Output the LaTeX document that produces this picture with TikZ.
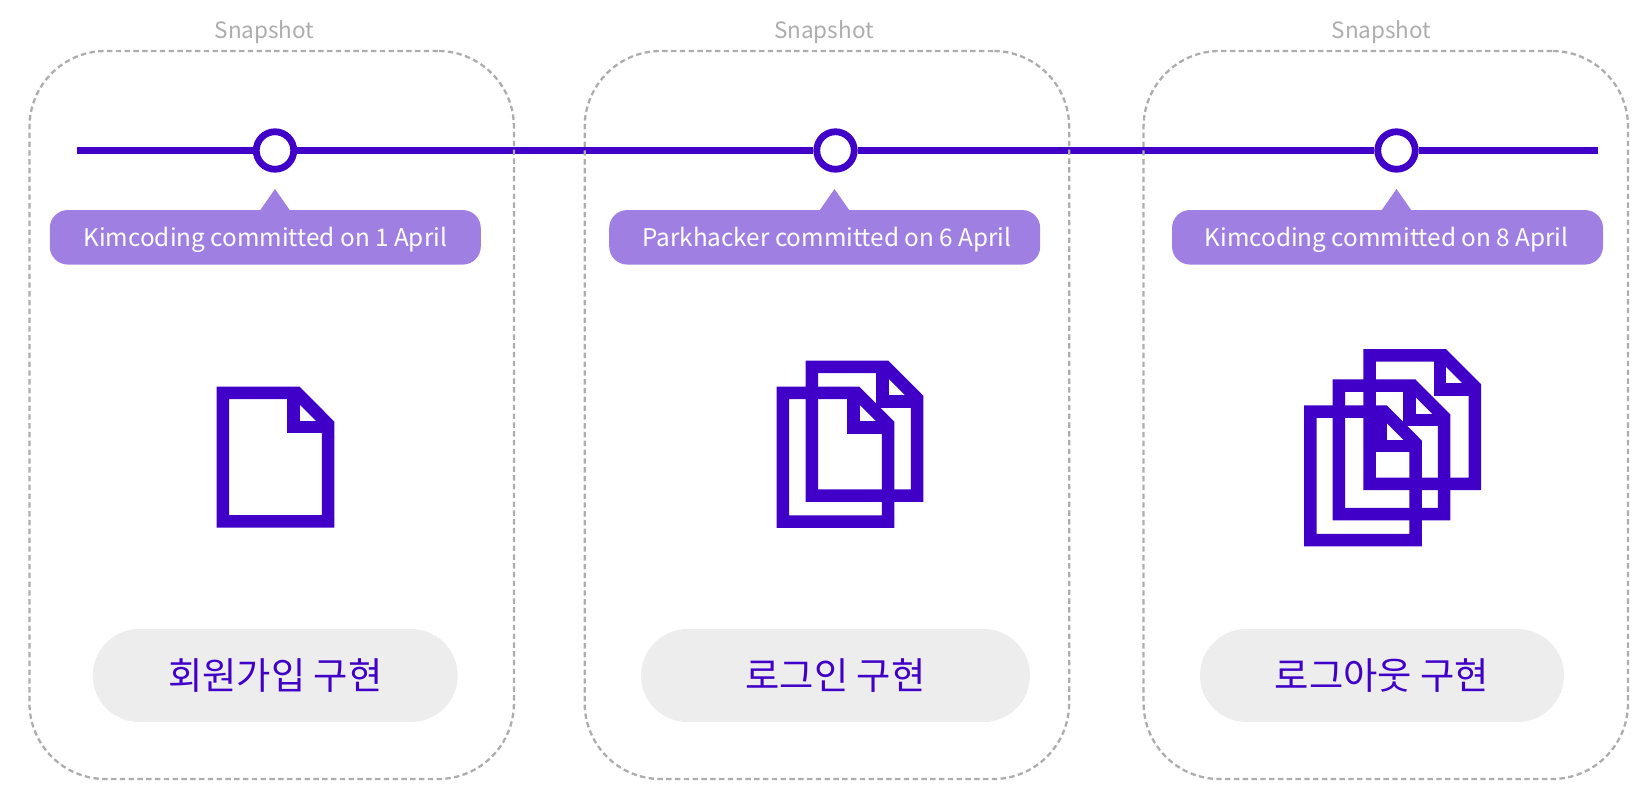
\documentclass[tikz,border=0pt]{standalone}
\usepackage{fontspec}
\setmainfont{Noto Sans CJK KR}
\definecolor{violet}{HTML}{4000C7}
\definecolor{lilac}{HTML}{A07FE3}
\definecolor{dashgray}{HTML}{ADADAD}
\definecolor{pillgray}{HTML}{EDEDED}
\tikzset{
  snapbox/.style={draw=dashgray,line width=2.3pt,dash pattern=on 5.4pt off 3.4pt,rounded corners=76pt,minimum width=484.5pt,minimum height=728pt,inner sep=0pt},
  snaplabel/.style={text=dashgray,font=\fontsize{22.5}{26}\selectfont,inner sep=0pt},
  commit/.style={circle,draw=violet,fill=white,line width=6.8pt,minimum size=37.5pt,inner sep=0pt},
  timeline/.style={draw=violet,line width=6.2pt},
  tag/.style={fill=lilac,rounded corners=18pt,minimum width=431pt,minimum height=54.5pt,inner sep=0pt,text=white,font=\fontsize{24.3}{28}\selectfont},
  tagtip/.style={fill=lilac},
  topic/.style={fill=pillgray,rounded corners=46.5pt,minimum height=93pt,inner sep=0pt,text=violet,font=\fontsize{37.3}{42}\selectfont},
  docline/.style={draw=violet,line width=12.5pt,miter limit=10},
}
\newcommand{\tagtext}[1]{\raisebox{-9.6pt}[0pt][0pt]{#1}}
% one document icon, origin = outer top-left corner
\newcommand{\docsheet}[2]{%
  \begin{scope}[shift={(#1,#2)}]
    \draw[docline] (6.25,6.25) -- (80,6.25) -- (111.5,37.8) -- (111.5,134.85) -- (6.25,134.85) -- cycle;
    \draw[docline] (76.8,6.25) -- (76.8,40.7) -- (111.5,40.7);
  \end{scope}}
\begin{document}
\begin{tikzpicture}[x=1pt,y=-1pt]
\useasboundingbox (0,0) rectangle (1650,798);
% timeline
\coordinate (tstart) at (76.5,150.5);
\coordinate (tend) at (1597.5,150.5);
\node[commit] (c1) at (275,150.5) {};
\node[commit] (c2) at (835.5,150.5) {};
\node[commit] (c3) at (1396.5,150.5) {};
\draw[timeline] (tstart) -- (c1);
\draw[timeline] (c1) -- (c2);
\draw[timeline] (c2) -- (c3);
\draw[timeline] (c3) -- (tend);
% snapshot boxes
\node[snapbox] (s1) at (271.7,415) {};
\node[snapbox] (s2) at (826.9,415) {};
\node[snapbox] (s3) at (1385.8,415) {};
\node[snaplabel] (l1) at (264.5,32.5) {Snapshot};
\node[snaplabel] (l2) at (824,32.5) {Snapshot};
\node[snaplabel] (l3) at (1381.5,32.5) {Snapshot};
% tags
\node[tag] (t1) at (265.3,237.3) {\tagtext{Kimcoding committed on 1 April}};
\node[tag] (t2) at (824.7,237.3) {\hspace*{4.4pt}\tagtext{Parkhacker committed on 6 April}};
\node[tag] (t3) at (1387.5,237.3) {\tagtext{Kimcoding committed on 8 April}\hspace*{2pt}};
\fill[tagtip] (260,210.5) -- (275,189) -- (290,210.5) -- cycle;
\fill[tagtip] (819.5,210.5) -- (834.5,189) -- (849.5,210.5) -- cycle;
\fill[tagtip] (1381.5,210.5) -- (1396.5,189) -- (1411.5,210.5) -- cycle;
% icons
\docsheet{216.7}{386.5}
\docsheet{805.7}{360.7}
\docsheet{776.7}{386.7}
\docsheet{1363.3}{349}
\docsheet{1332.7}{379.3}
\docsheet{1304}{405.3}
% topics
\node[topic,minimum width=365pt] (p1) at (275.2,675.5) {회원가입 구현};
\node[topic,minimum width=389pt] (p2) at (835.5,675.5) {로그인 구현};
\node[topic,minimum width=364pt] (p3) at (1382,675.5) {로그아웃 구현};
\end{tikzpicture}
\end{document}
